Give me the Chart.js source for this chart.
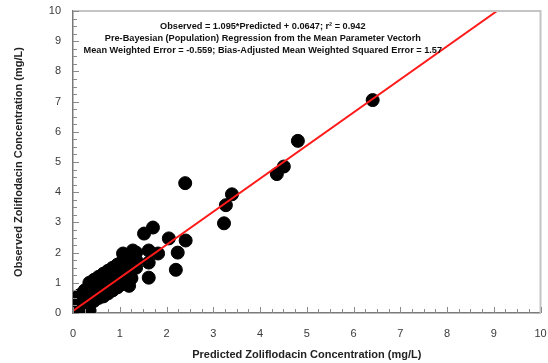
<!DOCTYPE html>
<html>
<head>
<meta charset="utf-8">
<script src="https://cdn.jsdelivr.net/npm/chart.js@4/dist/chart.umd.min.js"></script>
<style>
  html, body { margin: 0; padding: 0; background: #fff; }
  #wrap { width: 548px; height: 363px; }
</style>
</head>
<body>
<div id="wrap"><canvas id="obsPredCanvas"></canvas></div>
<script>
// predicted vs observed zoliflodacin concentrations (mg/L)
const predicted = [
  0.02, 0.05, 0.05, 0.06, 0.15, 0.15, 0.15, 0.20, 0.35, 0.25, 0.25, 0.25,
  0.35, 0.35, 0.35, 0.35, 0.45, 0.45, 0.45, 0.45, 0.55, 0.55, 0.55, 0.55,
  0.65, 0.65, 0.65, 0.65, 0.75, 0.75, 0.75, 0.75, 0.85, 0.85, 0.85, 0.85,
  0.95, 0.95, 0.95, 0.95, 1.05, 1.05, 1.05, 1.05, 1.15, 1.15, 1.15, 1.15,
  1.25, 1.25, 1.25, 1.25, 1.35, 1.35, 1.35, 1.07, 1.28, 1.20,
  1.52, 1.71, 1.62, 1.82, 1.62, 1.62, 2.05, 2.24, 2.20, 2.41, 2.40, 3.23, 3.27, 3.40, 4.36,
  4.51, 4.81, 6.41
];
const observed = [
  0.02, 0.05, 0.30, 0.50, 0.10, 0.35, 0.60, 0.02, 0.10, 0.20, 0.45, 0.75,
  0.30, 0.55, 0.85, 1.00, 0.40, 0.65, 0.90, 1.10, 0.50, 0.75, 1.00, 1.20,
  0.55, 0.80, 1.05, 1.30, 0.65, 0.90, 1.15, 1.40, 0.75, 1.00, 1.25, 1.50,
  0.85, 1.10, 1.35, 1.60, 0.95, 1.20, 1.45, 1.70, 1.05, 1.30, 1.55, 1.80,
  1.15, 1.40, 1.65, 1.90, 1.50, 1.75, 2.00, 1.97, 2.07, 0.90,
  2.63, 2.83, 2.07, 1.97, 1.67, 1.17, 2.47, 2.00, 1.43, 2.40, 4.30, 2.97, 3.57, 3.93, 4.60,
  4.85, 5.70, 7.05
];
// fitted regression: Observed = 1.095*Predicted + 0.0647
const fitX = [0, 9.07];
const fitY = [0.0647, 10];
const xTicks = [0, 1, 2, 3, 4, 5, 6, 7, 8, 9, 10];
const yTicks = [0, 1, 2, 3, 4, 5, 6, 7, 8, 9, 10];
const noteLines = [
  'Observed = 1.095*Predicted + 0.0647; r\u00b2 = 0.942',
  'Pre-Bayesian (Population) Regression from the Mean Parameter Vectorh',
  'Mean Weighted Error = -0.559; Bias-Adjusted Mean Weighted Squared Error = 1.57'
];

const scatterPts = predicted.map((x, i) => ({ x: x, y: observed[i] }));
const fitPts = fitX.map((x, i) => ({ x: x, y: fitY[i] }));

// inward minor/major ticks, grey frame and the regression notes
const decorPlugin = {
  id: 'decor',
  afterDraw(chart) {
    const ctx = chart.ctx;
    const a = chart.chartArea;
    const xs = chart.scales.x, ys = chart.scales.y;
    ctx.save();
    ctx.strokeStyle = '#c4c4c4';
    ctx.lineWidth = 2;
    ctx.beginPath();
    ctx.moveTo(a.left, a.top);
    ctx.lineTo(a.right, a.top);
    ctx.lineTo(a.right, a.bottom);
    ctx.stroke();

    ctx.strokeStyle = '#8a8a8a';
    ctx.lineWidth = 1;
    ctx.beginPath();
    for (let v = 0; v <= 10.001; v += 0.25) {
      const major = Math.abs(v - Math.round(v)) < 0.01;
      const len = major ? 6 : 4;
      const px = Math.round(xs.getPixelForValue(v)) + 0.5;
      ctx.moveTo(px, a.bottom);
      ctx.lineTo(px, a.bottom - len);
      const py = Math.round(ys.getPixelForValue(v)) + 0.5;
      ctx.moveTo(a.left, py);
      ctx.lineTo(a.left + len, py);
    }
    ctx.stroke();

    ctx.fillStyle = '#111';
    ctx.font = 'bold 9.2px "Liberation Sans", Arial, sans-serif';
    ctx.textAlign = 'center';
    ctx.textBaseline = 'middle';
    const cx = xs.getPixelForValue(4.06);
    noteLines.forEach((t, i) => {
      ctx.fillText(t, cx, ys.getPixelForValue(9.5) + i * 12);
    });
    ctx.restore();
  }
};

new Chart(document.getElementById('obsPredCanvas'), {
  type: 'scatter',
  data: {
    datasets: [{
      type: 'line',
      label: 'Regression',
      data: fitPts,
      borderColor: '#ff1a1a',
      borderWidth: 2,
      pointRadius: 0,
      fill: false,
      order: 1
    }, {
      type: 'scatter',
      label: 'Observations',
      data: scatterPts,
      backgroundColor: '#000',
      borderColor: '#000',
      pointRadius: 6.5,
      pointHoverRadius: 6.5,
      order: 2
    }]
  },
  options: {
    responsive: true,
    maintainAspectRatio: false,
    animation: false,
    layout: { padding: { top: 11, right: 7, left: 0, bottom: 0 } },
    plugins: { legend: { display: false }, tooltip: { enabled: false } },
    scales: {
      x: {
        type: 'linear',
        min: 0, max: 10,
        afterBuildTicks: s => { s.ticks = xTicks.map(v => ({ value: v })); },
        afterFit: s => { s.height = 50; s.paddingLeft = 0; s.paddingRight = 0; },
        grid: { display: true, drawOnChartArea: false, drawTicks: false },
        border: { color: '#7a7a7a', width: 1.5 },
        ticks: { padding: 14, color: '#3a3a3a', font: { size: 11, family: 'Liberation Sans' } },
        title: {
          display: true,
          text: 'Predicted Zoliflodacin Concentration (mg/L)',
          color: '#222',
          font: { size: 11, weight: 'bold', family: 'Liberation Sans' },
          padding: { top: 0, bottom: 1 }
        }
      },
      y: {
        type: 'linear',
        min: 0, max: 10,
        afterBuildTicks: s => { s.ticks = yTicks.map(v => ({ value: v })); },
        afterFit: s => { s.width = 73; s.paddingTop = 0; s.paddingBottom = 0; },
        grid: { display: true, drawOnChartArea: false, drawTicks: false },
        border: { color: '#7a7a7a', width: 1.5 },
        ticks: { padding: 12, color: '#3a3a3a', font: { size: 11, family: 'Liberation Sans' } },
        title: {
          display: true,
          text: 'Observed Zoliflodacin Concentration (mg/L)',
          color: '#222',
          font: { size: 11, weight: 'bold', family: 'Liberation Sans' },
          padding: { top: 12, bottom: 4 }
        }
      }
    }
  },
  plugins: [decorPlugin]
});
</script>
</body>
</html>
